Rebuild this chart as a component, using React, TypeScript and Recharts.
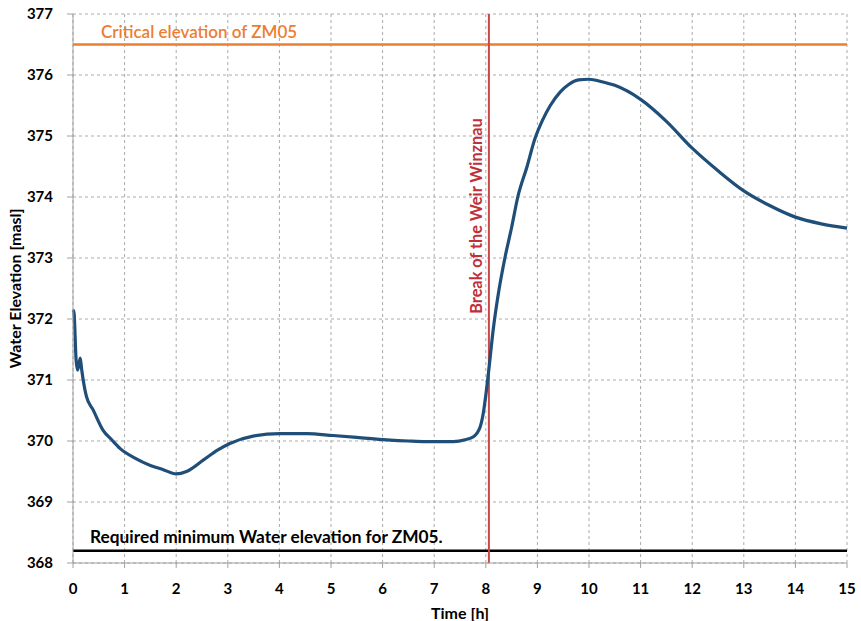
import React from 'react';
import { LineChart, Line, XAxis, YAxis, CartesianGrid, ReferenceLine, Label } from 'recharts';

const times = [0, 0.02, 0.06, 0.09, 0.14, 0.17, 0.26, 0.39, 0.58, 0.75, 0.91, 1.2, 1.5, 1.75, 2.0, 2.2, 2.53, 2.8, 3.04, 3.49, 4.01, 4.53, 5.04, 5.5, 6.08, 6.5, 6.85, 7.37, 7.6, 7.76, 7.89, 7.95, 8.0, 8.06, 8.14, 8.25, 8.37, 8.5, 8.62, 8.8, 8.95, 9.1, 9.25, 9.44, 9.6, 9.8, 10.0, 10.25, 10.5, 11.0, 11.5, 12.0, 12.5, 13.0, 13.5, 14.0, 14.5, 15.0];
const elevation = [372.15, 372.1, 371.33, 371.16, 371.36, 371.16, 370.73, 370.51, 370.18, 370.02, 369.88, 369.72, 369.6, 369.53, 369.46, 369.5, 369.69, 369.85, 369.96, 370.08, 370.12, 370.12, 370.09, 370.06, 370.02, 370.0, 369.99, 369.99, 370.02, 370.07, 370.23, 370.45, 370.75, 371.18, 371.8, 372.45, 373.0, 373.5, 374.0, 374.5, 374.95, 375.26, 375.5, 375.72, 375.84, 375.92, 375.93, 375.89, 375.83, 375.6, 375.24, 374.8, 374.43, 374.1, 373.86, 373.67, 373.56, 373.49];

const xTicks = [0, 1, 2, 3, 4, 5, 6, 7, 8, 9, 10, 11, 12, 13, 14, 15];
const yTicks = [368, 369, 370, 371, 372, 373, 374, 375, 376, 377];

const criticalElevation = 376.5;
const minimumElevation = 368.2;
const breakTime = 8.06;

const criticalLabel = 'Critical  elevation of ZM05';
const minimumLabel = 'Required minimum Water elevation for ZM05.';
const breakLabel = 'Break of the Weir Winznau';

const data = times.map((t, i) => ({ t, z: elevation[i] }));

const FONT = 'Lato, Carlito, Calibri, sans-serif';

export default function App() {
  return (
    <div style={{ position: 'absolute', left: 0, top: 0, width: 861, height: 621, background: '#fff' }}>
      <LineChart width={861} height={621} data={data} margin={{ top: 14, right: 14, bottom: 20, left: 0 }}>
        <CartesianGrid stroke="#ababab" strokeDasharray="3 3" vertical horizontal />
        <XAxis
          dataKey="t"
          type="number"
          domain={[0, 15]}
          ticks={xTicks}
          interval={0}
          stroke="#a0a0a0"
          tickSize={5}
          tickMargin={15}
          tick={{ fill: '#000', fontSize: 15, fontWeight: 700, fontFamily: FONT }}
          height={38}
        >
          <Label value="Time [h]" position="insideBottom" offset={-18} style={{ fill: '#000', fontSize: 16, fontWeight: 700, fontFamily: FONT }} />
        </XAxis>
        <YAxis
          type="number"
          domain={[368, 377]}
          ticks={yTicks}
          interval={0}
          width={73}
          stroke="#a0a0a0"
          tickSize={6}
          tickMargin={14}
          tickLine={{ stroke: '#a0a0a0' }}
          tick={{ fill: '#000', fontSize: 15, fontWeight: 700, fontFamily: FONT }}
        >
          <Label value="Water Elevation [masl]" angle={-90} position="insideLeft" offset={15} style={{ textAnchor: 'middle', fill: '#000', fontSize: 16, fontWeight: 700, fontFamily: FONT }} />
        </YAxis>
        <ReferenceLine
          y={criticalElevation}
          stroke="#ED7D31"
          strokeWidth={2.5}
          label={(props: any) => (
            <text x={props.viewBox.x + 28} y={props.viewBox.y - 7} fill="#ED7D31" fontSize={17} fontFamily={FONT} fontWeight={600}>
              {criticalLabel}
            </text>
          )}
        />
        <ReferenceLine
          y={minimumElevation}
          stroke="#000"
          strokeWidth={2.5}
          label={(props: any) => (
            <text x={props.viewBox.x + 17} y={props.viewBox.y - 8} fill="#000" fontSize={17.3} fontFamily={FONT} fontWeight={700}>
              {minimumLabel}
            </text>
          )}
        />
        <ReferenceLine
          x={breakTime}
          stroke="#C8484A"
          strokeWidth={2}
          label={(props: any) => {
            const cx = props.viewBox.x - 11;
            const cy = 216;
            return (
              <text x={cx} y={cy} fill="#C0303A" fontSize={16.3} fontFamily={FONT} fontWeight={700} textAnchor="middle" dominantBaseline="middle" transform={`rotate(-90 ${cx} ${cy})`}>
                {breakLabel}
              </text>
            );
          }}
        />
        <Line type="monotone" dataKey="z" stroke="#1F4E79" strokeWidth={3.2} dot={false} isAnimationActive={false} />
      </LineChart>
    </div>
  );
}
